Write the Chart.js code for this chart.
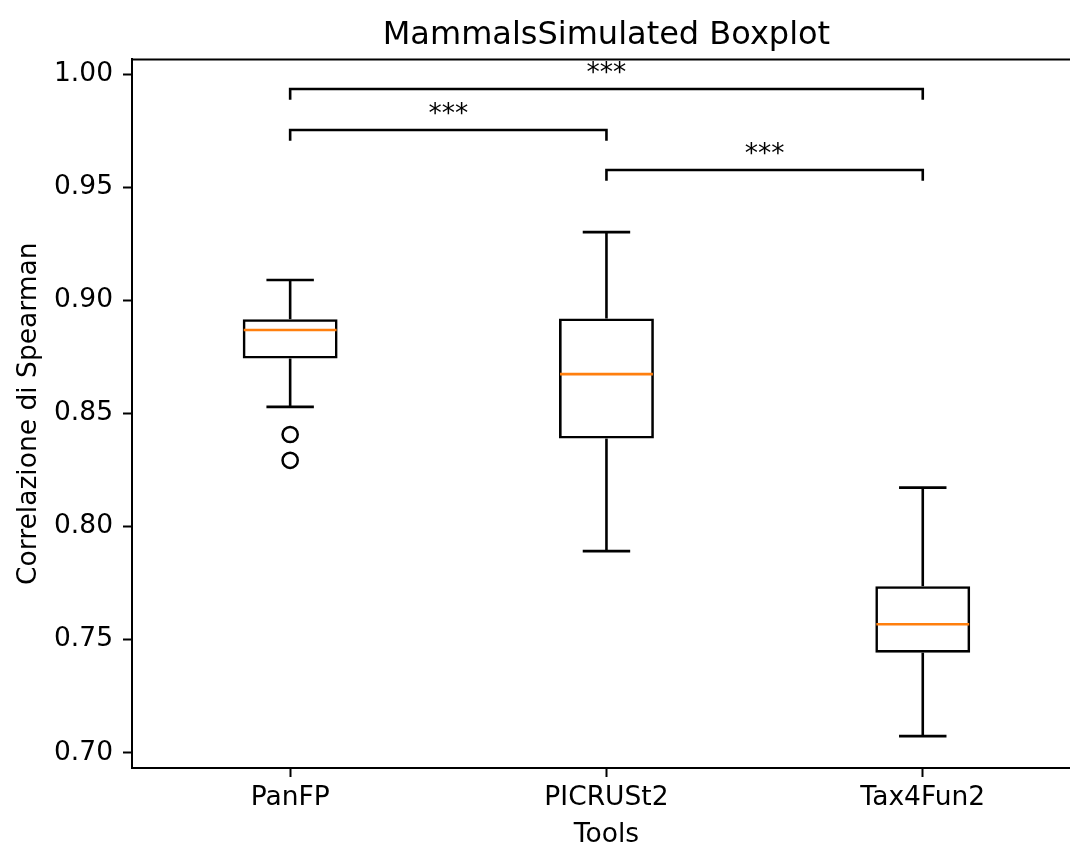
<!DOCTYPE html>
<html>
<head>
<meta charset="utf-8">
<title>MammalsSimulated Boxplot</title>
<script src="https://cdn.jsdelivr.net/npm/chart.js@4.4.1/dist/chart.umd.min.js"></script>
<style>
  html, body { margin: 0; padding: 0; overflow: hidden; background: #fff; }
</style>
</head>
<body>
<canvas id="boxChart" width="1070" height="846"></canvas>
<script>
// tools compared, placed at x = 1, 2, 3
var categories = ['PanFP', 'PICRUSt2', 'Tax4Fun2'];
var positions = [1, 2, 3];

// box statistics per tool
var whiskerLow  = [0.8529, 0.7891, 0.7073];
var q1          = [0.8743, 0.8389, 0.7442];
var median      = [0.8869, 0.8674, 0.7568];
var q3          = [0.8917, 0.8920, 0.7736];
var whiskerHigh = [0.9090, 0.9302, 0.8172];

// points beyond the whiskers (index into categories)
var outlierTool  = [0, 0];
var outlierValue = [0.8407, 0.8293];

// significance brackets: from, to, height, label
var bracketFrom   = [0, 0, 1];
var bracketTo     = [2, 1, 2];
var bracketHeight = [0.9935, 0.9754, 0.9577];
var bracketLabel  = ['***', '***', '***'];
var bracketLeg = 0.0048;

// axes ranges and ticks
var yTicks = [0.70, 0.75, 0.80, 0.85, 0.90, 0.95, 1.00];
var yMin = 0.6932, yMax = 1.0066;
var xMin = 0.5, xMax = 3.4655;   // frame is cut at the right edge
var xMid = 2;                    // middle of the full 0.5 - 3.5 range

var titleText = 'MammalsSimulated Boxplot';
var xTitleText = 'Tools';

var FONT = 'DejaVu Sans';
var TXT = 26.5;
Chart.defaults.font.family = FONT;
Chart.defaults.color = '#000';

// whiskers, caps, medians, brackets, titles and the top frame line
var boxExtras = {
  id: 'boxExtras',
  afterDatasetsDraw: function (chart) {
    var ctx = chart.ctx;
    var x = chart.scales.x, y = chart.scales.y;
    var bars = chart.getDatasetMeta(0).data;
    var area = chart.chartArea;

    function seg(x1, y1, x2, y2) {
      ctx.beginPath();
      ctx.moveTo(x1, y1);
      ctx.lineTo(x2, y2);
      ctx.stroke();
    }

    ctx.save();
    ctx.lineCap = 'butt';
    positions.forEach(function (p, i) {
      var cx = x.getPixelForValue(p);
      var half = bars[i].width / 2;
      ctx.strokeStyle = '#000';
      ctx.lineWidth = 2.6;
      seg(cx, y.getPixelForValue(q3[i]), cx, y.getPixelForValue(whiskerHigh[i]));
      seg(cx, y.getPixelForValue(q1[i]), cx, y.getPixelForValue(whiskerLow[i]));
      seg(cx - half / 2, y.getPixelForValue(whiskerHigh[i]), cx + half / 2, y.getPixelForValue(whiskerHigh[i]));
      seg(cx - half / 2, y.getPixelForValue(whiskerLow[i]), cx + half / 2, y.getPixelForValue(whiskerLow[i]));
      ctx.strokeStyle = '#ff7f0e';
      seg(cx - half + 1, y.getPixelForValue(median[i]), cx + half - 1, y.getPixelForValue(median[i]));
    });

    ctx.strokeStyle = '#000';
    ctx.lineWidth = 2.6;
    ctx.lineJoin = 'miter';
    ctx.fillStyle = '#000';
    ctx.font = TXT + 'px "' + FONT + '"';
    ctx.textAlign = 'center';
    ctx.textBaseline = 'alphabetic';
    bracketHeight.forEach(function (h, k) {
      var x1 = x.getPixelForValue(positions[bracketFrom[k]]);
      var x2 = x.getPixelForValue(positions[bracketTo[k]]);
      var yt = y.getPixelForValue(h);
      var yb = y.getPixelForValue(h - bracketLeg);
      ctx.beginPath();
      ctx.moveTo(x1, yb);
      ctx.lineTo(x1, yt);
      ctx.lineTo(x2, yt);
      ctx.lineTo(x2, yb);
      ctx.stroke();
      ctx.fillText(bracketLabel[k], (x1 + x2) / 2, yt - 8);
    });

    // titles centred on the whole plot frame
    var midX = x.getPixelForValue(xMid);
    ctx.fillText(xTitleText, midX, 842);
    ctx.font = '32px "' + FONT + '"';
    ctx.fillText(titleText, midX, 44);

    ctx.lineWidth = 2;
    seg(area.left, area.top, area.right, area.top);
    ctx.restore();
  }
};

var ctx = document.getElementById('boxChart').getContext('2d');

var boxChart = new Chart(ctx, {
  type: 'bar',
  data: {
    datasets: [{
      label: 'IQR',
      data: positions.map(function (p, i) { return { x: p, y: [q1[i], q3[i]] }; }),
      backgroundColor: 'rgba(255,255,255,0)',
      borderColor: '#000',
      borderWidth: 2.6,
      borderSkipped: false,
      barPercentage: 0.3,
      categoryPercentage: 1.0
    }, {
      type: 'scatter',
      label: 'outliers',
      data: outlierValue.map(function (v, i) { return { x: positions[outlierTool[i]], y: v }; }),
      pointStyle: 'circle',
      pointRadius: 7.6,
      pointBorderWidth: 2.5,
      pointBorderColor: '#000',
      pointBackgroundColor: 'rgba(255,255,255,0)'
    }]
  },
  options: {
    responsive: false,
    animation: false,
    devicePixelRatio: 1,
    layout: { autoPadding: false, padding: { top: 59.4, left: 0, right: 0, bottom: 0 } },
    plugins: {
      legend: { display: false },
      tooltip: { enabled: false },
      title: { display: false }
    },
    scales: {
      x: {
        type: 'linear',
        min: xMin,
        max: xMax,
        offset: false,
        grid: {
          offset: false,
          drawOnChartArea: false,
          drawTicks: true,
          tickLength: 9,
          tickWidth: 2,
          tickColor: '#000'
        },
        border: { display: true, color: '#000', width: 2 },
        ticks: {
          color: '#000',
          font: { size: TXT },
          padding: 5,
          maxRotation: 0,
          callback: function (v) { return categories[positions.indexOf(v)]; }
        },
        afterBuildTicks: function (scale) {
          scale.ticks = positions.map(function (p) { return { value: p }; });
        },
        afterFit: function (scale) { scale.height = 78; }
      },
      y: {
        min: yMin,
        max: yMax,
        grid: {
          drawOnChartArea: false,
          drawTicks: true,
          tickLength: 9,
          tickWidth: 2,
          tickColor: '#000'
        },
        border: { display: true, color: '#000', width: 2 },
        ticks: {
          color: '#000',
          font: { size: TXT },
          padding: 10,
          callback: function (v) { return Number(v).toFixed(2); }
        },
        afterBuildTicks: function (scale) {
          scale.ticks = yTicks.map(function (v) { return { value: v }; });
        },
        title: {
          display: true,
          text: 'Correlazione di Spearman',
          color: '#000',
          font: { size: TXT },
          padding: { top: 13, bottom: 0 }
        },
        afterFit: function (scale) { scale.width = 132; }
      }
    }
  },
  plugins: [boxExtras]
});
</script>
</body>
</html>
